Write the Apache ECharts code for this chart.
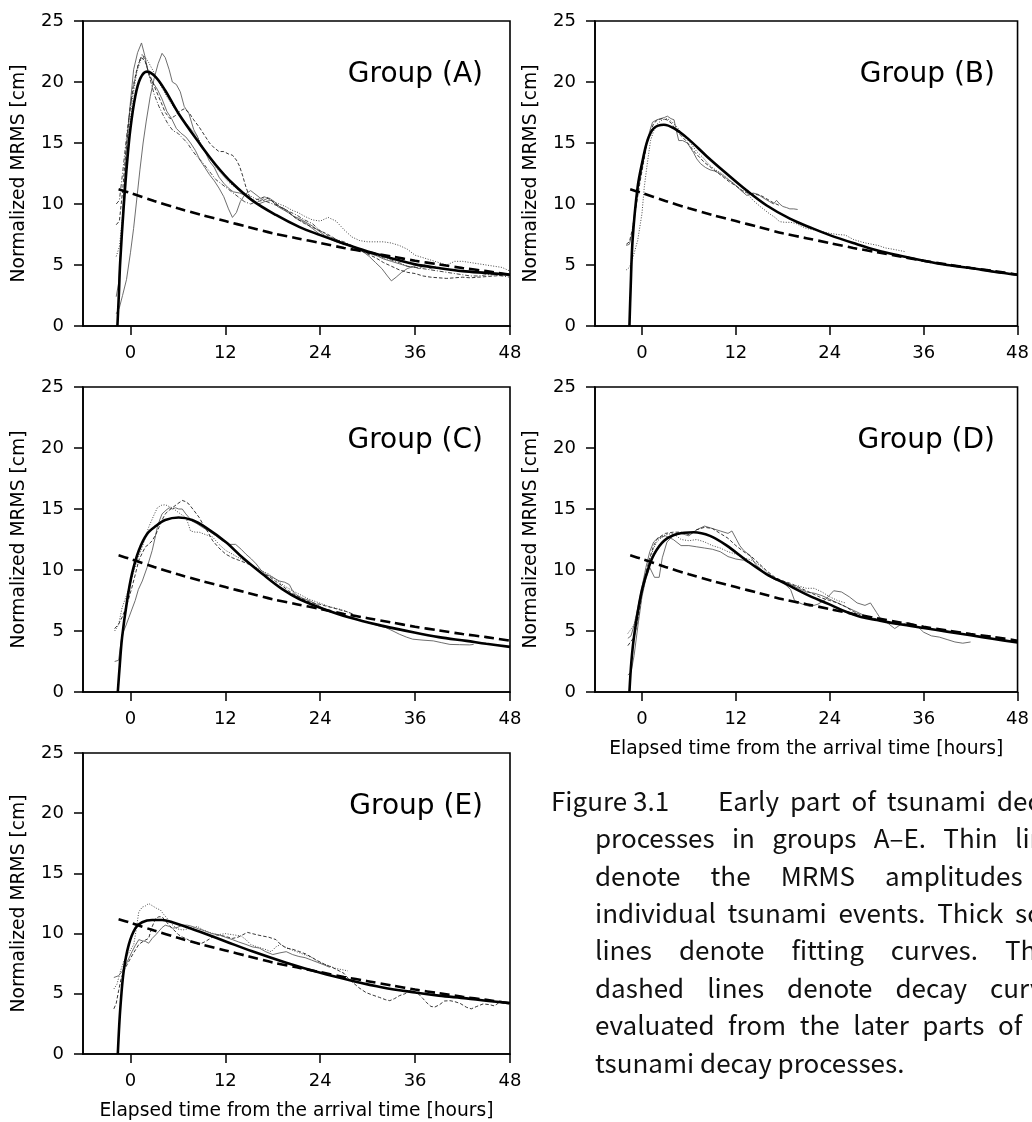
<!DOCTYPE html>
<html>
<head>
<meta charset="utf-8">
<script src="https://cdn.jsdelivr.net/npm/echarts@6/dist/echarts.min.js"></script>
<style>html,body{margin:0;padding:0;background:#fff;}#chart{width:1032px;height:1122px;}</style>
</head>
<body>
<div id="chart"></div>
<script>
// ---------- data ----------
const xTicks = [0, 12, 24, 36, 48];
const groupNames = ['Group (A)', 'Group (B)', 'Group (C)', 'Group (D)', 'Group (E)'];
const yAxisTitle = 'Normalized MRMS [cm]';
const xAxisTitle = 'Elapsed time from the arrival time [hours]';

// thick dashed decay curve (same in all groups)
const decayCurve = [[-1.5,11.2],[0,10.9],[3,10.25],[6,9.65],[9,9.1],[12,8.6],[15,8.1],[18,7.6],[21,7.2],[24,6.8],[27,6.4],[30,6.05],[33,5.7],[36,5.35],[39,5.05],[42,4.75],[45,4.5],[48,4.2]];

// thick solid fitting curves
const fitA = [[-1.65,0],[-1.45,2.8],[-1.3,5.2],[-0.85,9.8],[-0.4,13.6],[0,16.2],[0.6,18.8],[1.25,20.3],[2.1,20.85],[3.2,20.4],[4.4,19.3],[6.1,17.4],[8.7,15.0],[10.8,13.2],[12.9,11.7],[15.4,10.3],[18.4,9.1],[21.4,8.1],[24,7.45],[27,6.75],[30,6.1],[33,5.55],[36,5.05],[39,4.75],[42,4.5],[45,4.35],[48,4.2]];
const fitB = [[-1.6,0],[-1.45,3.0],[-1.2,7.0],[-0.55,11.4],[0.1,13.6],[0.7,15.2],[1.5,16.2],[2.8,16.5],[4.1,16.2],[5.8,15.4],[8.3,13.9],[10.8,12.5],[13.4,11.1],[15.9,9.9],[18.9,8.8],[21.8,8.0],[24,7.45],[27,6.8],[30,6.2],[33,5.75],[36,5.35],[39,5.0],[42,4.75],[45,4.45],[48,4.2]];
const fitC = [[-1.6,0],[-1.35,2.2],[-1.06,4.46],[-0.42,7.5],[0.2,9.7],[1.06,11.6],[2.1,12.95],[3.2,13.6],[4.4,14.1],[6.1,14.3],[7.8,14.1],[9.5,13.5],[12.05,12.3],[14.2,11.0],[16.7,9.67],[19.2,8.43],[21.4,7.6],[23.9,6.93],[27.7,6.1],[31.9,5.42],[35.9,4.87],[39,4.5],[42.5,4.19],[45,3.95],[48,3.7]];
const fitD = [[-1.6,0],[-1.35,2.5],[-0.97,4.74],[-0.13,8.0],[0.72,9.94],[1.56,11.3],[2.83,12.4],[4.5,12.95],[6.6,13.1],[8.7,12.8],[10.85,12.0],[13.4,10.76],[15.9,9.67],[18.45,8.84],[21,8.0],[23.9,7.2],[26,6.6],[28,6.15],[30,5.9],[33,5.55],[36,5.25],[39,4.95],[42,4.65],[45,4.35],[48,4.05]];
const fitE = [[-1.6,0],[-1.45,2.0],[-1.27,3.9],[-0.85,6.9],[-0.2,9.1],[0.63,10.45],[1.48,10.94],[2.75,11.13],[4.0,11.13],[5.3,10.94],[8.7,10.17],[12.05,9.35],[15.4,8.53],[19.7,7.58],[23.9,6.76],[28.1,6.07],[31.9,5.53],[36,5.11],[39,4.85],[42.5,4.62],[45,4.42],[48,4.24]];

// thin lines: individual events
const evA1 = [[-1.8,2.4],[-1.5,3.5],[-1.2,6.5],[-0.9,10.3],[-0.5,14.5],[-0.1,17.7],[0.4,21.0],[0.9,22.4],[1.4,23.2],[1.8,22.2],[2.3,20.6],[2.8,20.0],[3.4,19.4],[4.0,18.6],[4.6,17.6],[5.2,17.0],[5.8,16.2],[6.4,15.8],[7.0,15.5],[7.6,15.0],[8.2,14.4],[8.8,13.6],[9.4,13.0],[10.0,12.4],[10.6,11.9],[11.2,11.3],[11.8,10.6],[12.4,9.6],[12.9,8.9],[13.4,9.3],[13.9,10.2],[14.5,10.8],[15.2,11.1],[16.0,10.7],[16.8,10.3],[17.5,10.5],[18.2,10.2],[19.0,9.7],[19.8,9.5],[20.6,9.0],[21.4,8.8],[22.2,8.5],[23.0,8.2],[23.8,7.8],[24.6,7.4],[25.4,7.2],[26.2,7.0],[27.0,6.8],[27.8,6.6],[28.6,6.3],[29.4,6.1],[30.2,5.7],[31.0,5.2],[31.8,4.7],[32.5,4.1],[33.0,3.7],[33.6,4.0],[34.3,4.4],[35.0,4.7],[35.8,4.9],[36.5,4.7],[37.2,5.0],[37.9,4.7],[38.6,4.9]];
const evA2 = [[-1.8,1.0],[-1.4,1.5],[-1.0,2.5],[-0.5,3.8],[0,6.0],[0.4,8.0],[0.8,10.4],[1.2,12.8],[1.6,15.0],[2.0,16.8],[2.5,18.8],[3.0,20.3],[3.5,21.5],[4.0,22.35],[4.4,22.0],[4.9,21.0],[5.3,20.0],[5.8,19.8],[6.3,19.2],[6.8,18.0],[7.4,17.4],[8.0,16.1],[8.5,15.5],[8.9,14.7],[9.5,14.2],[10.0,13.5],[10.6,13.0],[11.2,12.2],[11.8,11.7],[12.4,11.3],[13.0,11.0],[13.8,10.9],[14.6,10.7],[15.4,10.3],[16.2,10.0],[17.0,10.2],[17.8,10.3],[18.6,9.8],[19.4,9.5],[20.2,9.2],[21.0,8.8],[22.0,8.5],[23.0,8.0],[24.0,7.5],[25.0,7.2],[26.0,6.9],[27.0,6.7],[28.0,6.5],[29.0,6.2],[30.0,6.0],[31.0,5.8],[32.0,5.5],[33.0,5.3],[34.0,5.1],[35.0,4.9],[36.0,4.8]];
const evA3 = [[-1.8,8.3],[-1.4,8.6],[-1.0,11.0],[-0.6,14.2],[-0.2,17.0],[0.3,19.5],[0.8,21.0],[1.3,22.0],[1.8,21.8],[2.3,20.8],[2.8,20.0],[3.3,19.2],[3.9,18.3],[4.4,17.5],[5.0,17.0],[5.6,17.2],[6.2,17.6],[6.8,17.8],[7.4,17.5],[8.0,16.9],[8.7,16.3],[9.4,15.6],[10.0,15.0],[10.6,14.6],[11.2,14.3],[11.8,14.3],[12.4,14.1],[12.9,14.0],[13.4,13.6],[13.8,13.1],[14.2,12.3],[14.6,11.4],[15.0,10.7],[15.5,10.3],[16.2,10.4],[17.0,10.6],[17.8,10.3],[18.6,9.9],[19.4,9.6],[20.2,9.2],[21.0,8.8],[22.0,8.4],[23.0,8.1],[24.0,7.8],[25.0,7.5],[26.0,7.1],[27.0,6.8],[28.0,6.5],[29.0,6.2],[30.0,5.9],[31.0,5.6],[32.0,5.2],[33.0,4.9],[34.0,4.6],[35.0,4.4],[36.0,4.3],[37.0,4.1],[38.0,4.0],[39.0,3.95],[40.0,3.9],[41.0,3.95],[42.0,4.0],[43.0,3.95],[44.0,4.0],[45.0,4.05],[46.0,4.1],[47.0,4.15],[48.0,4.3]];
const evA4 = [[-1.8,5.7],[-1.4,6.5],[-1.0,9.0],[-0.6,12.5],[-0.2,15.8],[0.3,18.8],[0.8,20.8],[1.3,21.8],[1.8,22.1],[2.3,21.6],[2.8,21.0],[3.4,20.2],[4.0,19.5],[4.7,18.7],[5.4,18.0],[6.0,17.5],[6.8,16.8],[7.6,16.2],[8.4,15.6],[9.2,14.6],[10.0,13.8],[10.8,13.0],[11.6,12.4],[12.4,11.8],[13.2,11.4],[14.0,11.0],[14.8,10.8],[15.6,10.5],[16.4,10.3],[17.2,10.6],[18.0,10.2],[18.8,10.0],[19.6,9.8],[20.4,9.5],[21.2,9.3],[22.0,9.0],[23.0,8.7],[24.0,8.6],[25.0,8.9],[26.0,8.6],[27.0,7.9],[28.0,7.3],[29.0,7.0],[30.0,6.9],[31.0,6.9],[32.0,6.9],[33.0,6.8],[34.0,6.6],[35.0,6.3],[36.0,5.8],[37.0,5.6],[38.0,5.4],[39.0,5.2],[40.0,5.0],[41.0,5.3],[42.0,5.3],[43.0,5.2],[44.0,5.1],[45.0,5.0],[46.0,4.9],[47.0,4.8],[48.0,4.5]];
const evA5 = [[-1.8,10.0],[-1.4,10.3],[-1.0,12.5],[-0.5,15.5],[0,18.0],[0.5,20.0],[1.0,21.5],[1.5,22.3],[2.0,21.5],[2.5,20.2],[3.0,19.0],[3.6,18.0],[4.2,17.2],[4.8,16.5],[5.4,16.0],[6.0,15.8],[6.6,15.4],[7.2,15.0],[7.8,14.4],[8.4,13.9],[9.0,13.5],[9.6,13.0],[10.2,12.5],[10.8,12.0],[11.4,11.7],[12.0,11.4],[12.8,11.0],[13.6,10.6],[14.4,10.2],[15.2,10.0],[16.0,10.2],[16.8,10.3],[17.6,10.1],[18.4,9.9],[19.2,9.7],[20.0,9.4],[21.0,9.1],[22.0,8.7],[23.0,8.4],[24.0,7.8],[25.0,7.4],[26.0,7.1],[27.0,6.9],[28.0,6.6],[29.0,6.3],[30.0,6.0],[31.0,5.8],[32.0,5.6],[33.0,5.4],[34.0,5.2],[35.0,4.9],[36.0,4.8],[37.0,4.7],[38.0,4.6],[39.0,4.5],[40.0,4.4],[41.0,4.3],[42.0,4.2],[43.0,4.1],[44.0,4.1],[45.0,4.2],[46.0,4.2],[47.0,4.1],[48.0,4.0]];

const evB1 = [[-2.0,6.6],[-1.6,6.7],[-1.3,7.5],[-1.0,9.0],[-0.6,10.8],[-0.1,12.5],[0.3,13.9],[0.7,15.2],[1.0,16.0],[1.35,16.7],[1.9,16.9],[2.4,17.0],[2.9,17.1],[3.25,17.2],[3.7,17.0],[4.1,16.9],[4.4,16.0],[4.7,15.2],[5.2,15.2],[5.8,15.0],[6.2,14.6],[6.6,14.2],[7.0,13.7],[7.5,13.3],[8.1,13.0],[8.7,12.8],[9.3,12.7],[10.0,12.5],[10.8,12.1],[11.7,11.7],[12.5,11.2],[13.4,10.7],[14.2,10.9],[14.8,10.8],[15.5,10.5],[16.3,10.2],[16.8,10.0],[17.2,10.3],[17.6,10.0],[18.0,9.8],[18.5,9.7],[18.9,9.6],[19.4,9.6],[19.9,9.55]];
const evB2 = [[-2.0,6.7],[-1.6,6.9],[-1.2,8.0],[-0.8,9.6],[-0.3,11.6],[0.2,13.4],[0.6,14.8],[1.0,15.8],[1.5,16.6],[2.0,16.9],[2.6,17.0],[3.2,16.9],[3.8,16.6],[4.4,16.0],[5.0,15.6],[5.6,15.2],[6.2,14.7],[6.8,14.2],[7.4,13.8],[8.0,13.4],[8.8,13.0],[9.6,12.6],[10.4,12.2],[11.2,11.8],[12.0,11.5],[12.8,11.1],[13.6,10.9],[14.4,10.8],[15.2,10.7],[16.0,10.4],[16.8,10.1],[17.5,9.9]];
const evB3 = [[-2.0,4.6],[-1.6,4.8],[-1.2,5.5],[-0.55,7.0],[0,9.2],[0.3,11.4],[0.7,13.4],[1.1,15.2],[1.5,16.0],[2.0,16.6],[2.6,16.9],[3.25,17.0],[3.9,16.7],[4.5,16.3],[5.3,15.6],[6.2,15.0],[7.0,14.3],[7.8,13.8],[8.6,13.2],[9.4,12.8],[10.2,12.5],[10.8,12.2],[11.6,11.7],[12.4,11.3],[13.4,10.9],[14.2,10.3],[15.1,9.8],[15.7,9.5],[16.3,9.2],[17.0,8.9],[17.6,8.55],[18.3,8.5],[19.0,8.5],[19.7,8.4],[20.3,8.2],[21.0,8.0],[21.8,7.9],[22.6,7.8],[23.3,7.7],[24.0,7.6],[25.0,7.5],[26.0,7.45],[27.0,7.1],[28.0,6.9],[28.6,6.8],[29.4,6.7],[30.2,6.6],[31.1,6.4],[32.0,6.3],[32.8,6.2],[33.6,6.1]];

const evC1 = [[-2.0,2.5],[-1.5,2.6],[-1.06,4.7],[-0.6,5.4],[-0.2,6.1],[0.2,6.8],[0.6,7.5],[1.0,8.4],[1.5,9.1],[2.1,10.2],[2.75,11.6],[3.1,12.6],[3.4,13.5],[3.7,14.1],[4.0,14.6],[4.5,14.9],[4.9,15.1],[5.3,15.0],[5.7,15.1],[6.1,15.0],[6.55,15.0],[7.0,14.6],[7.4,14.3],[7.8,14.0],[8.4,13.8],[9.1,13.5],[9.9,13.2],[10.8,12.8],[11.6,12.4],[12.5,12.1],[13.3,12.1],[14.0,11.7],[14.6,11.3],[15.3,10.9],[15.9,10.5],[16.5,10.0],[17.1,9.67],[18.0,9.4],[18.8,9.1],[19.5,9.0],[20.1,8.8],[20.5,8.3],[20.9,8.0],[21.7,7.7],[22.6,7.5],[23.5,7.2],[24.5,6.8],[25.6,6.5],[26.8,6.3],[28.1,6.1],[29.4,5.8],[30.7,5.56],[31.5,5.4],[32.3,5.28],[33.2,5.0],[34.0,4.74],[34.9,4.5],[35.7,4.33],[37.0,4.25],[38.3,4.19],[39.3,4.05],[40.4,3.9],[41.6,3.88],[42.9,3.86],[43.4,3.9]];
const evC2 = [[-2.0,5.2],[-1.5,5.56],[-1.0,6.2],[-0.6,6.9],[-0.2,7.7],[0.2,8.6],[0.6,9.6],[1.06,10.8],[1.5,11.4],[1.9,11.9],[2.3,12.1],[2.75,12.4],[3.2,12.9],[3.6,13.5],[4.0,14.1],[4.4,14.6],[4.9,14.9],[5.3,15.1],[5.9,15.4],[6.55,15.7],[7.0,15.6],[7.4,15.4],[8.0,14.9],[8.7,14.3],[9.3,13.6],[9.8,13.1],[10.4,12.4],[11.2,11.8],[12.05,11.3],[12.9,11.0],[13.7,10.8],[14.5,10.6],[15.4,10.35],[16.0,10.0],[16.7,9.67],[17.5,9.5],[18.3,9.1],[19.2,8.7],[20.0,8.3],[20.7,8.0],[21.4,7.75],[22.2,7.5],[23.0,7.3],[23.9,7.2],[24.7,7.05],[25.6,6.9],[26.4,6.75],[27.3,6.6],[28.1,6.4]];
const evC3 = [[-2.0,5.0],[-1.5,5.5],[-1.06,6.9],[-0.4,8.1],[0.2,9.4],[0.8,10.7],[1.5,11.9],[1.9,12.7],[2.3,13.5],[2.9,14.4],[3.4,15.1],[3.9,15.3],[4.4,15.35],[4.9,15.2],[5.3,15.1],[6.1,14.7],[7.0,14.3],[7.3,13.8],[7.6,13.2],[8.2,13.1],[8.7,13.1],[9.5,12.9],[10.4,12.7],[11.2,12.1],[12.05,11.6],[12.9,11.3],[13.7,11.0],[14.8,10.6],[15.9,10.2],[16.7,9.9],[17.5,9.67],[18.6,9.1],[19.7,8.6],[20.5,8.3],[21.4,8.0],[22.6,7.6],[23.9,7.3],[25.1,7.0],[26.4,6.8],[27.3,6.6],[28.1,6.4]];

const evD1 = [[-1.8,1.4],[-1.4,1.6],[-1.0,3.0],[-0.5,5.5],[0,7.8],[0.5,9.3],[1.0,10.2],[1.6,9.4],[2.2,9.4],[2.6,11.0],[3.2,12.3],[4,12.8],[5,13.0],[6,12.8],[7,13.3],[8,13.6],[9,13.4],[10,13.2],[11,13.0],[11.5,13.2],[12,12.6],[12.5,12.0],[13,11.6],[13.8,11.2],[14.5,10.5],[15.2,10.0],[16,9.6],[17,9.2],[18,9.0],[19,8.4],[19.5,7.5],[20.5,7.2],[21.5,7.0],[22.5,7.2],[23.5,7.6],[24.5,8.3],[25.5,8.2],[26.5,7.8],[27.5,7.3],[28.5,7.1],[29.2,7.3],[30,6.5],[30.5,6.0],[31.5,5.6],[32.3,5.2],[33,5.5],[34,5.7],[35,5.5],[36,4.9],[37,4.6],[38,4.5],[39,4.3],[40,4.1],[41,4.0],[42,4.1]];
const evD2 = [[-1.8,4.4],[-1.4,4.6],[-1.0,5.5],[-0.5,7.0],[0,8.6],[0.5,10.2],[1.0,11.5],[1.5,12.3],[2,12.6],[3,12.8],[4,12.5],[5,12.0],[6,12.0],[7,11.9],[8,11.8],[9,11.7],[10,11.5],[11,11.1],[12,10.9],[13,10.8],[14,10.5],[15,10.2],[16,9.6],[17,9.3],[18,9.1],[19,8.8],[20,8.5],[21,8.2],[22,8.1],[23,7.9],[24,7.6],[25,7.3],[26,7.0],[27,6.7],[28,6.4],[29,6.1],[30,5.9],[31,5.8]];
const evD3 = [[-1.8,4.8],[-1,5.5],[-0.5,6.8],[0,8.0],[0.5,9.4],[1,10.8],[1.5,11.8],[2,12.4],[3,12.9],[4,13.0],[5,12.5],[6,12.4],[7,12.5],[8,12.3],[9,12.0],[10,11.8],[11,11.5],[12,11.3],[13,11.0],[14,10.8],[15,10.4],[16,9.8],[17,9.3],[18,9.1],[19,8.8],[20,8.7],[21,8.5],[22,8.5],[23,8.2],[24,7.8],[25,7.5],[26,7.3]];
const evD4 = [[-1.8,3.8],[-1,4.5],[-0.5,6.0],[0,8.0],[0.5,9.8],[1,11.0],[1.5,12.0],[2,12.6],[3,13.0],[4,13.1],[5,13.1],[6,12.9],[7,13.3],[8,13.5],[9,13.4],[10,13.0],[11,12.6],[12,12.0],[13,11.5],[14,11.1],[15,10.5],[16,9.9],[17,9.4],[18,9.1],[19,8.9],[20,8.6],[21,8.3],[22,8.0],[23,7.7],[24,7.5],[25,7.3],[26,7.0],[27,6.6],[28,6.3],[29,6.1],[30,6.0],[31,5.9]];

const evE1 = [[-2.1,5.4],[-1.7,5.8],[-1.3,6.8],[-0.85,7.7],[-0.2,8.4],[0.42,9.1],[0.75,10.4],[1.05,11.8],[1.5,12.2],[1.9,12.3],[2.3,12.5],[2.8,12.3],[3.3,12.1],[3.8,11.95],[4.2,11.6],[4.6,11.3],[5.2,10.8],[5.9,10.4],[6.6,10.3],[7.3,10.4],[8.0,10.5],[8.45,10.6],[9.2,10.3],[10.0,10.1],[11.0,9.9],[12.0,10.0],[13.0,9.9],[14.0,9.8],[14.6,9.5],[15.2,9.1],[16.0,8.9],[17.0,8.7],[17.8,8.5],[18.4,8.9],[19.0,9.1],[19.8,8.8],[20.6,8.6],[21.4,8.4],[22.2,8.2],[23.0,8.0],[23.6,7.7],[24.4,7.5],[25.2,7.3],[26.0,7.1],[26.8,7.0],[27.5,6.9]];
const evE2 = [[-2.1,3.75],[-1.8,4.2],[-1.5,5.25],[-1.2,6.2],[-0.85,6.9],[-0.2,7.7],[0.4,8.4],[1.06,9.1],[1.7,9.4],[2.3,9.6],[2.7,10.5],[3.2,11.27],[3.6,11.4],[4.0,11.4],[4.5,11.0],[4.9,10.7],[5.5,10.3],[6.1,9.9],[6.6,9.7],[7.0,9.6],[7.8,9.3],[8.7,9.1],[9.5,9.35],[10.1,9.6],[10.8,9.9],[11.8,9.8],[12.9,9.6],[13.6,9.7],[14.2,9.9],[14.8,10.1],[15.4,10.0],[16.0,9.9],[16.7,9.8],[17.5,9.7],[18.4,9.5],[19.0,9.1],[19.7,8.8],[20.5,8.7],[21.4,8.5],[22.2,8.3],[23.0,8.0],[23.8,7.7],[24.7,7.4],[25.5,7.2],[26.4,6.9],[27.0,6.7],[27.5,6.3],[28.2,5.9],[28.9,5.5],[29.8,5.1],[30.6,4.9],[31.5,4.7],[32.3,4.5],[32.8,4.43],[33.4,4.6],[34.0,4.84],[34.7,5.0],[35.3,5.25],[35.9,5.2],[36.4,5.0],[37.0,4.6],[37.4,4.3],[38.0,3.95],[38.5,3.9],[39.1,4.1],[39.7,4.4],[40.4,4.43],[41.0,4.35],[41.7,4.2],[42.5,3.88],[43.1,3.75],[43.8,3.95],[44.6,4.16],[45.4,4.1],[46.0,4.0],[46.7,4.3],[47.3,4.2],[48.0,4.16]];
const evE3 = [[-2.1,6.35],[-1.5,6.5],[-1.0,6.9],[-0.6,7.4],[0.2,8.5],[0.6,9.0],[1.06,9.5],[1.5,9.4],[1.9,9.35],[2.3,9.2],[2.75,9.6],[3.2,9.9],[3.6,10.2],[4.0,10.5],[4.4,10.7],[4.9,10.6],[5.3,10.45],[5.9,10.5],[6.55,10.7],[7.2,10.7],[7.8,10.6],[8.6,10.4],[9.5,10.2],[10.3,10.0],[11.2,9.9],[12.0,9.7],[12.9,9.5],[13.7,9.3],[14.6,9.1],[15.4,8.9],[16.3,8.8],[17.1,8.5],[18.0,8.26],[18.9,8.4],[19.7,8.5],[20.5,8.26],[21.3,8.1],[22.1,8.0],[22.9,7.8],[23.7,7.6],[24.5,7.4],[25.2,7.2]];

// caption
const captionHead = 'Figure 3.1';
const captionLines = [
  ['Early','part','of','tsunami','decay'],
  ['processes','in','groups','A–E.','Thin','lines'],
  ['denote','the','MRMS','amplitudes','of'],
  ['individual','tsunami','events.','Thick','solid'],
  ['lines','denote','fitting','curves.','The'],
  ['dashed','lines','denote','decay','curves'],
  ['evaluated','from','the','later','parts','of','the']
];
const captionLast = 'tsunami decay processes.';

// ---------- layout ----------
const panels = [
  {left: 83,  top: 21,  fit: fitA, events: [[evA1,'solid'],[evA2,'solid'],[evA3,'dashed'],[evA4,'dotted'],[evA5,'dashdot']], xName: false},
  {left: 595, top: 21,  fit: fitB, events: [[evB1,'solid'],[evB2,'dashed'],[evB3,'dotted']], xName: false},
  {left: 83,  top: 387, fit: fitC, events: [[evC1,'solid'],[evC2,'dashed'],[evC3,'dotted']], xName: false},
  {left: 595, top: 387, fit: fitD, events: [[evD1,'solid'],[evD2,'solid'],[evD3,'dotted'],[evD4,'dashed']], xName: true},
  {left: 83,  top: 753, fit: fitE, events: [[evE1,'dotted'],[evE2,'dashed'],[evE3,'solid']], xName: true}
];
const PW = 427, PH = 305;
const FONT = '"DejaVu Sans", sans-serif';

const thinStyles = {
  solid:   {color: '#5e5e5e', width: 0.9, type: 'solid'},
  dashed:  {color: '#222', width: 0.9, type: [3.5, 2]},
  dotted:  {color: '#333', width: 0.9, type: [1, 1.6]},
  dashdot: {color: '#333', width: 0.9, type: [4, 1.8, 1, 1.8]}
};

const grids = [], xAxes = [], yAxes = [], series = [], graphics = [];
panels.forEach((p, i) => {
  grids.push({left: p.left, top: p.top, width: PW, height: PH, show: true, borderColor: '#000', borderWidth: 1.6, containLabel: false});
  xAxes.push({
    type: 'value', gridIndex: i, min: -6, max: 48,
    axisLine: {show: true, onZero: false, lineStyle: {color: '#000', width: 1.6}},
    axisTick: {show: true, length: 9, lineStyle: {color: '#000', width: 1.5}, customValues: xTicks},
    axisLabel: {color: '#000', fontSize: 18, fontFamily: FONT, margin: 18, customValues: xTicks},
    splitLine: {show: false},
    name: p.xName ? xAxisTitle : '', nameLocation: 'middle', nameGap: 48,
    nameTextStyle: {color: '#000', fontSize: 18.7, fontFamily: FONT}
  });
  yAxes.push({
    type: 'value', gridIndex: i, min: 0, max: 25, interval: 5,
    axisLine: {show: true, onZero: false, lineStyle: {color: '#000', width: 1.6}},
    axisTick: {show: true, length: 9, lineStyle: {color: '#000', width: 1.5}},
    axisLabel: {color: '#000', fontSize: 18, fontFamily: FONT, margin: 19},
    splitLine: {show: false},
    name: yAxisTitle, nameLocation: 'middle', nameGap: 54, nameRotate: 90,
    nameTextStyle: {color: '#000', fontSize: 18.7, fontFamily: FONT}
  });
  p.events.forEach(([d, st]) => {
    series.push({type: 'line', xAxisIndex: i, yAxisIndex: i, data: d, symbol: 'none', silent: true,
      lineStyle: Object.assign({}, thinStyles[st]), z: 2});
  });
  series.push({type: 'line', xAxisIndex: i, yAxisIndex: i, data: decayCurve, symbol: 'none', silent: true, smooth: 0.3,
    lineStyle: {color: '#000', width: 2.6, type: [10, 5]}, z: 3});
  series.push({type: 'line', xAxisIndex: i, yAxisIndex: i, data: p.fit, symbol: 'none', silent: true, smooth: 0.35,
    lineStyle: {color: '#000', width: 2.6, type: 'solid'}, z: 4});
  graphics.push({type: 'text', x: p.left + PW - 27, y: p.top + 54,
    style: {text: groupNames[i], fill: '#000', font: '28px ' + FONT, align: 'right', verticalAlign: 'middle'}});
});

// caption layout (justified like the source document): for each line,
// the word whose left edge is pinned, and that left edge
const CAP_FONT = '26px "Noto Sans CJK JP"';
const capAnchors = [[4, 997], [5, 1015], [3, 885], [4, 1015], [4, 1005], [4, 990], [5, 998]];
const mctx = document.createElement('canvas').getContext('2d');
mctx.font = CAP_FONT;
const tw = s => mctx.measureText(s).width;
const capIndent = 595, capFirstWords = 718, capHeadX = 551;
const capBase0 = 801, capStep = 37.4;
function capText(str, x, y) {
  graphics.push({type: 'text', x: x, y: y, style: {text: str, fill: '#111', font: CAP_FONT, align: 'left', verticalAlign: 'middle'}});
}
capText(captionHead, capHeadX, capBase0);
captionLines.forEach((words, li) => {
  const L = li === 0 ? capFirstWords : capIndent;
  const [ai, ax] = capAnchors[li];
  let before = 0;
  for (let k = 0; k < ai; k++) before += tw(words[k]);
  const gap = (ax - L - before) / ai;
  let x = L;
  const y = capBase0 + li * capStep;
  words.forEach(w => { capText(w, x, y); x += tw(w) + gap; });
});
capText(captionLast, capIndent, capBase0 + 7 * capStep);

const chart = echarts.init(document.getElementById('chart'), null, {renderer: 'canvas'});
chart.setOption({
  animation: false,
  backgroundColor: '#fff',
  grid: grids, xAxis: xAxes, yAxis: yAxes, series: series,
  graphic: graphics
});
</script>
</body>
</html>
